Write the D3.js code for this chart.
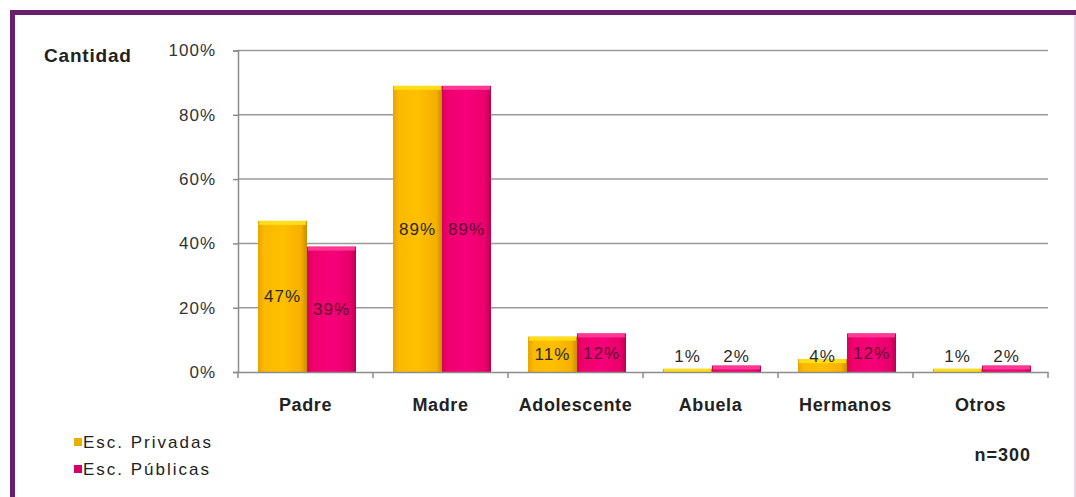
<!DOCTYPE html>
<html>
<head>
<meta charset="utf-8">
<script src="https://cdn.jsdelivr.net/npm/d3@7"></script>
<style>
  body { margin: 0; background: #fff; }
  svg { display: block; font-family: "Liberation Sans", Arial, sans-serif; }
</style>
</head>
<body>
<script>
// categories and values
const categories = ["Padre", "Madre", "Adolescente", "Abuela", "Hermanos", "Otros"];
const series = ["Esc. Privadas", "Esc. Públicas"];
const privadas = [47, 89, 11, 1, 4, 1];
const publicas = [39, 89, 12, 2, 12, 2];
const yTicks = [0, 20, 40, 60, 80, 100];

const width = 1076, height = 497;
const margin = {top: 50.5, right: 28, bottom: 125, left: 238};

const svg = d3.select("body").append("svg")
  .attr("width", width).attr("height", height);

const defs = svg.append("defs");
function grad(id, stops) {
  const g = defs.append("linearGradient").attr("id", id)
    .attr("x1", "0").attr("x2", "1").attr("y1", "0").attr("y2", "0");
  stops.forEach(s => g.append("stop").attr("offset", s[0]).attr("stop-color", s[1]));
}
grad("gY", [[0, "#e8a400"], [0.12, "#fbb900"], [0.5, "#ffc000"], [0.88, "#f6b000"], [1, "#c98d00"]]);
grad("gP", [[0, "#d8005c"], [0.12, "#f0006e"], [0.5, "#f7007a"], [0.88, "#e9006c"], [1, "#b80050"]]);
const fills = {"Esc. Privadas": "url(#gY)", "Esc. Públicas": "url(#gP)"};
const tops = {"Esc. Privadas": "#ffe21a", "Esc. Públicas": "#ff3f98"};
const solid = {"Esc. Privadas": "#e8b000", "Esc. Públicas": "#d4006a"};

// frame
svg.append("rect").attr("x", 10).attr("y", 10).attr("width", 5).attr("height", height)
  .attr("fill", "#6a1f6e");
svg.append("rect").attr("x", 10).attr("y", 10).attr("width", width).attr("height", 5)
  .attr("fill", "#6a1f6e");
svg.append("rect").attr("x", 1074).attr("y", 15).attr("width", 2).attr("height", height)
  .attr("fill", "#f2d6ee");

const x = d3.scaleBand().domain(categories)
  .range([margin.left, width - margin.right]);
const x1 = d3.scaleBand().domain(series).range([20, x.bandwidth() - 17]);
const y = d3.scaleLinear().domain([0, 100]).range([height - margin.bottom, margin.top]);

// gridlines
svg.append("g").selectAll("line").data(yTicks.filter(d => d > 0)).join("line")
  .attr("x1", margin.left).attr("x2", width - margin.right)
  .attr("y1", d => y(d)).attr("y2", d => y(d))
  .attr("stroke", "#9a9a9a").attr("stroke-width", 1.5);

// y axis
const yAxis = svg.append("g")
  .attr("transform", `translate(${margin.left},0)`)
  .call(d3.axisLeft(y).tickValues(yTicks).tickSize(5).tickPadding(17)
    .tickFormat(d => d + "%"));
yAxis.select(".domain").attr("stroke", "#8c8c8c").attr("stroke-width", 1.5);
yAxis.selectAll(".tick line").attr("stroke", "#8c8c8c").attr("stroke-width", 1.5);
yAxis.selectAll(".tick text").attr("fill", "#333").attr("font-size", 17)
  .attr("letter-spacing", 1);

// bars
const rows = categories.map((c, i) => ({cat: c, vals: [privadas[i], publicas[i]]}));
const groups = svg.append("g").selectAll("g").data(rows).join("g")
  .attr("transform", d => `translate(${x(d.cat)},0)`);
const bars = groups.selectAll("g").data(d => series.map((s, j) => ({s: s, v: d.vals[j]})))
  .join("g");
bars.append("rect")
  .attr("x", d => x1(d.s)).attr("width", x1.bandwidth())
  .attr("y", d => y(d.v)).attr("height", d => y(0) - y(d.v))
  .attr("fill", d => fills[d.s]);
bars.append("rect")
  .attr("x", d => x1(d.s) + 1).attr("width", x1.bandwidth() - 2)
  .attr("y", d => y(d.v)).attr("height", d => Math.min(4, y(0) - y(d.v)))
  .attr("fill", d => tops[d.s]).attr("opacity", 0.9);

// x axis
const xAxis = svg.append("g")
  .attr("transform", `translate(0,${y(0)})`)
  .call(d3.axisBottom(x).tickSize(0).tickPadding(26));
xAxis.select(".domain").attr("stroke", "#8c8c8c").attr("stroke-width", 1.5);
xAxis.selectAll(".tick text").attr("fill", "#222").attr("font-size", 18)
  .attr("font-weight", "bold").attr("letter-spacing", 0.6);
xAxis.selectAll(".tickmark").data(d3.range(categories.length + 1)).join("line")
  .attr("x1", i => margin.left + i * x.bandwidth()).attr("x2", i => margin.left + i * x.bandwidth())
  .attr("y1", 0).attr("y2", 6).attr("stroke", "#8c8c8c").attr("stroke-width", 1.5);

// data labels
bars.append("text")
  .attr("x", d => x1(d.s) + x1.bandwidth() / 2)
  .attr("y", d => Math.min((y(d.v) + y(0)) / 2, y(0) - 16))
  .attr("dy", "0.35em").attr("text-anchor", "middle")
  .attr("font-size", 17).attr("letter-spacing", 1)
  .attr("fill", d => d.v > 5 && d.s === "Esc. Públicas" ? "#5a1030" : "#2a2a2a")
  .text(d => d.v + "%");

// axis title
svg.append("text").attr("x", 44).attr("y", 62)
  .attr("font-size", 19).attr("font-weight", "bold").attr("fill", "#222")
  .attr("letter-spacing", 0.8)
  .text("Cantidad");

// legend
const leg = svg.append("g").selectAll("g").data(series).join("g")
  .attr("transform", (d, i) => `translate(74,${442 + i * 27})`);
leg.append("rect").attr("x", 0).attr("y", -4).attr("width", 8).attr("height", 8)
  .attr("fill", d => solid[d]);
leg.append("text").attr("x", 9).attr("dy", "0.35em")
  .attr("font-size", 17).attr("letter-spacing", 2).attr("fill", "#222")
  .text(d => d);

svg.append("text").attr("x", 1031).attr("y", 455).attr("dy", "0.35em")
  .attr("text-anchor", "end").attr("font-size", 18).attr("font-weight", "bold")
  .attr("letter-spacing", 1).attr("fill", "#222").text("n=300");
</script>
</body>
</html>
